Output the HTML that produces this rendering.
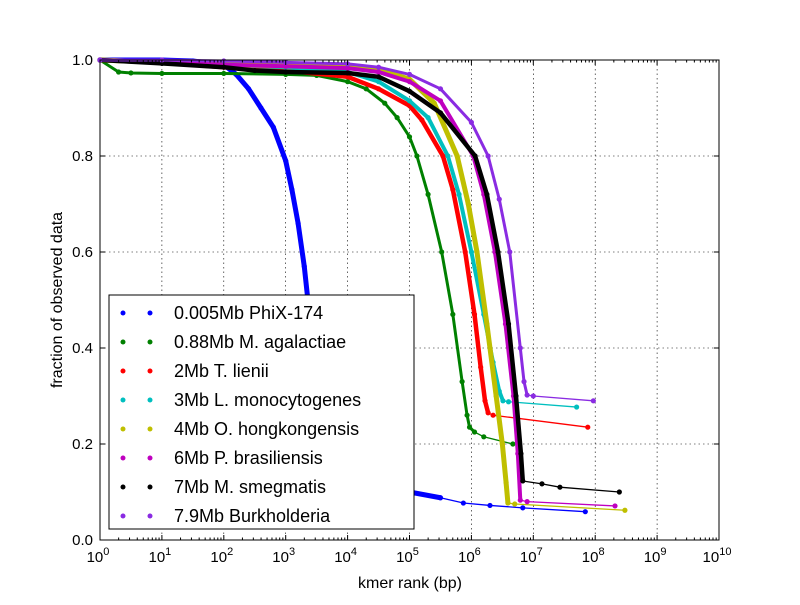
<!DOCTYPE html>
<html><head><meta charset="utf-8"><style>
body{margin:0;background:#fff;}
svg{font-family:"Liberation Sans","DejaVu Sans",sans-serif;}
</style></head><body>
<svg id="chart" width="800" height="600" xmlns="http://www.w3.org/2000/svg">
<rect width="800" height="600" fill="#fff"/>
<g id="grid"></g><g id="series"></g><g id="axes"></g><g id="legend"></g>
</svg>
<script>
const seriesNames=["0.005Mb PhiX-174","0.88Mb M. agalactiae","2Mb T. lienii","3Mb L. monocytogenes","4Mb O. hongkongensis","6Mb P. brasiliensis","7Mb M. smegmatis","7.9Mb Burkholderia"];
const blueLogRank=[0,1,1.5,2,2.2,2.4,2.6,2.8,3,3.1,3.2,3.3,3.4,3.5,3.6,3.8,4,4.5,5,5.5,5.87,6.3,6.83,7.84];
const blueFrac=[1,1,0.998,0.99,0.97,0.94,0.9,0.86,0.79,0.73,0.66,0.57,0.45,0.3,0.16,0.125,0.113,0.105,0.1,0.088,0.077,0.072,0.067,0.059];
const greenLogRank=[0,0.3,0.5,1,2,3,3.5,4,4.3,4.6,4.8,5,5.12,5.3,5.52,5.7,5.85,5.93,5.97,6.05,6.2,6.67];
const greenFrac=[1,0.975,0.973,0.972,0.972,0.97,0.968,0.955,0.94,0.91,0.88,0.84,0.8,0.72,0.6,0.47,0.33,0.26,0.235,0.225,0.215,0.2];
const redLogRank=[0,1,2,3,4,4.5,5,5.2,5.54,5.7,5.9,6.05,6.15,6.22,6.27,6.35,7.88];
const redFrac=[1,0.995,0.985,0.978,0.965,0.94,0.905,0.875,0.8,0.73,0.6,0.47,0.36,0.29,0.265,0.26,0.235];
const cyanLogRank=[0,1,2,3,4,4.5,5,5.3,5.62,5.8,6.0,6.2,6.35,6.45,6.51,6.6,7.7];
const cyanFrac=[1,0.995,0.99,0.985,0.975,0.955,0.915,0.88,0.8,0.72,0.6,0.47,0.37,0.31,0.29,0.288,0.277];
const yellowLogRank=[0,1,2,3,4,4.5,5,5.4,5.77,5.95,6.09,6.25,6.4,6.5,6.56,6.59,6.7,8.48];
const yellowFrac=[1,0.995,0.99,0.988,0.985,0.98,0.96,0.91,0.8,0.7,0.6,0.45,0.3,0.2,0.12,0.077,0.075,0.062];
const magentaLogRank=[0,1,2,3,4,4.5,5,5.5,6.03,6.2,6.38,6.55,6.68,6.75,6.79,6.9,8.32];
const magentaFrac=[1,0.995,0.99,0.987,0.983,0.975,0.955,0.915,0.8,0.72,0.6,0.45,0.3,0.18,0.083,0.08,0.071];
const blackLogRank=[0,1,2,2.5,3,4,4.5,5,5.5,6.06,6.25,6.43,6.6,6.72,6.8,6.83,7.14,7.43,8.39];
const blackFrac=[1,0.993,0.985,0.978,0.975,0.973,0.965,0.935,0.89,0.8,0.72,0.6,0.45,0.3,0.18,0.123,0.117,0.11,0.1];
const purpleLogRank=[0,1,2,3,4,4.5,5,5.5,6,6.27,6.45,6.62,6.79,6.85,6.9,7.0,7.97];
const purpleFrac=[1,1,0.998,0.995,0.992,0.985,0.97,0.94,0.87,0.8,0.71,0.6,0.4,0.33,0.302,0.3,0.29];
const xTickExponents=[0,1,2,3,4,5,6,7,8,9,10];
const yTickLabels=["0.0","0.2","0.4","0.6","0.8","1.0"];
const yTickValues=[0,0.2,0.4,0.6,0.8,1.0];

/* styling (not data) */
const seriesColors=["#0000ff","#008000","#ff0000","#00bfbf","#bfbf00","#bf00bf","#000000","#8a2be2"];
const denseEndIndex=[19,19,14,14,15,14,15,14];
const denseWidth=[5,3,4.5,4,5,4,4.5,3];

const L=100,R=719,T=60,B=540;
const xs=e=>L+(R-L)*e/10;
const ys=f=>B-(B-T)*f;
const NS="http://www.w3.org/2000/svg";
function mk(tag,attrs,parent){const e=document.createElementNS(NS,tag);for(const k in attrs)e.setAttribute(k,attrs[k]);parent.appendChild(e);return e;}
const grid=document.getElementById('grid'),axes=document.getElementById('axes'),ser=document.getElementById('series'),leg=document.getElementById('legend');

xTickExponents.forEach(e=>{
  const x=xs(e);
  if(e>0&&e<10){const g=mk('line',{x1:x,x2:x,y1:T,y2:B,stroke:'#000','stroke-width':0.6,'stroke-dasharray':'1.5,3'},grid);
  
  }
  mk('line',{x1:x,x2:x,y1:B,y2:B-5,stroke:'#000'},axes);
  mk('line',{x1:x,x2:x,y1:T,y2:T+5,stroke:'#000'},axes);
  for(let m=2;m<10&&e<10;m++){const xm=xs(e+Math.log10(m));
    mk('line',{x1:xm,x2:xm,y1:B,y2:B-2.5,stroke:'#000'},axes);
    mk('line',{x1:xm,x2:xm,y1:T,y2:T+2.5,stroke:'#000'},axes);}
  const t=mk('text',{x:x-2,y:562,'font-size':15,'text-anchor':'middle'},axes);
  
  
  t.innerHTML='10<tspan dy="-7" font-size="11">'+e+'</tspan>';
});
yTickValues.forEach((v,i)=>{
  const y=ys(v);
  if(v>0&&v<1){const g=mk('line',{x1:L,x2:R,y1:y,y2:y,stroke:'#000','stroke-width':0.6,'stroke-dasharray':'1.5,3'},grid);
  
  }
  mk('line',{x1:L,x2:L+5,y1:y,y2:y,stroke:'#000'},axes);
  mk('line',{x1:R,x2:R-5,y1:y,y2:y,stroke:'#000'},axes);
  const t=mk('text',{x:93,y:y+5,'font-size':15,'text-anchor':'end'},axes);
  
  
  t.textContent=yTickLabels[i];
});
const frame=mk('rect',{x:L,y:T,width:R-L,height:B-T,fill:'none',stroke:'#000','stroke-width':1},axes);


const xl=mk('text',{x:410,y:588,'font-size':16,'text-anchor':'middle'},axes);


xl.textContent='kmer rank (bp)';
const yl=mk('text',{x:62,y:300,'font-size':16,'text-anchor':'middle',transform:'rotate(-90 62 300)'},axes);


yl.textContent='fraction of observed data';

const allRanks=[blueLogRank,greenLogRank,redLogRank,cyanLogRank,yellowLogRank,magentaLogRank,blackLogRank,purpleLogRank];
const allFracs=[blueFrac,greenFrac,redFrac,cyanFrac,yellowFrac,magentaFrac,blackFrac,purpleFrac];
allRanks.forEach((lr,i)=>{
  const g=mk('g',{},ser);
  
  
  const P=lr.map((e,j)=>xs(e)+','+ys(allFracs[i][j]));
  const d=denseEndIndex[i];
  mk('polyline',{points:P.slice(0,d+1).join(' '),fill:'none',stroke:seriesColors[i],'stroke-width':denseWidth[i],'stroke-linejoin':'round','stroke-linecap':'round'},g);
  mk('polyline',{points:P.slice(d).join(' '),fill:'none',stroke:seriesColors[i],'stroke-width':1.3},g);
  lr.forEach((e,j)=>{const c=mk('circle',{cx:xs(e),cy:ys(allFracs[i][j]),r:2.6,fill:seriesColors[i]},g);
    
    });
});

const lb=mk('rect',{x:109,y:295,width:305,height:234,fill:'#fff',stroke:'#000'},leg);


seriesNames.forEach((n,i)=>{
  const y=313+i*29;
  const g=mk('g',{},leg);
  
  
  mk('circle',{cx:123,cy:y,r:2.5,fill:seriesColors[i]},g);
  mk('circle',{cx:150,cy:y,r:2.5,fill:seriesColors[i]},g);
  const t=mk('text',{x:174,y:y+6,'font-size':18},g);
  t.textContent=n;
});
</script>
</body></html>
